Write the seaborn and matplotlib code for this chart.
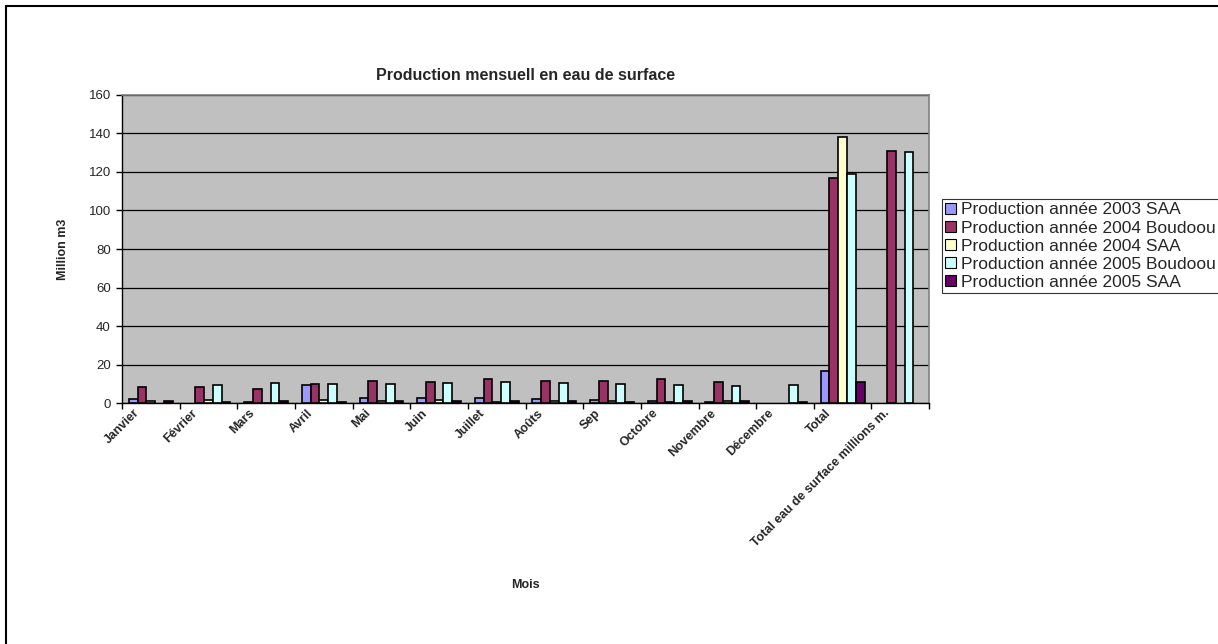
import matplotlib
matplotlib.use("Agg")
import matplotlib.pyplot as plt
from matplotlib.lines import Line2D
from matplotlib.patches import Patch
import numpy as np
import pandas as pd
import seaborn as sns

# Monthly surface-water production (million m3)
months = ["Janvier", "Février", "Mars", "Avril", "Mai", "Juin", "Juillet",
          "Aoûts", "Sep", "Octobre", "Novembre", "Décembre", "Total",
          "Total eau de surface millions m."]

series = ["Production année 2003 SAA",
          "Production année 2004 Boudoou",
          "Production année 2004 SAA",
          "Production année 2005 Boudoou",
          "Production année 2005 SAA"]

nan = np.nan
prod_2003_saa = [1.9, nan, 0.3, 9.2, 2.8, 2.6, 2.6, 2.1, 1.4, 0.9, 0.5, nan, 16.8, nan]
prod_2004_boudoou = [8.5, 8.2, 7.5, 10.0, 11.6, 10.9, 12.5, 11.5, 11.5, 12.5, 11.1, nan, 116.8, 130.7]
prod_2004_saa = [1.0, 1.4, 0.2, 1.7, 1.2, 1.4, 0.7, 1.2, 0.9, 0.7, 0.9, nan, 138.2, nan]
prod_2005_boudoou = [nan, 9.2, 10.4, 9.9, 9.7, 10.6, 11.1, 10.6, 9.9, 9.5, 8.9, 9.2, 119.1, 130.2]
prod_2005_saa = [0.9, 0.7, 0.9, 0.7, 0.9, 0.9, 0.9, 0.9, 0.7, 1.0, 1.0, 0.7, 10.8, nan]

colors = ["#9999FF", "#993366", "#FFFFCC", "#CCFFFF", "#660066"]

values = [prod_2003_saa, prod_2004_boudoou, prod_2004_saa,
          prod_2005_boudoou, prod_2005_saa]
df = pd.DataFrame({
    "Mois": np.tile(months, len(series)),
    "Serie": np.repeat(series, len(months)),
    "Valeur": np.concatenate(values),
})

sns.set_theme(style="white")
plt.rcParams["font.family"] = ["Liberation Sans", "DejaVu Sans"]

fig = plt.figure(figsize=(12.18, 6.44), dpi=100)
ax = fig.add_axes([0.1002, 0.3742, 0.6626, 0.4783])
ax.set_facecolor("#C0C0C0")

sns.barplot(data=df, x="Mois", y="Valeur", hue="Serie", order=months,
            hue_order=series, palette=colors, errorbar=None, width=0.76,
            edgecolor="black", linewidth=1.2, saturation=1, ax=ax,
            legend=False, zorder=3)

ax.set_ylim(0, 160)
ax.set_xlim(-0.5, len(months) - 0.5)
ax.set_yticks(np.arange(0, 161, 20))
ax.yaxis.grid(True, color="black", linewidth=0.9, zorder=0)
ax.set_axisbelow(True)

# tick marks on the category boundaries; rotated labels end just left of centre
n = len(months)
ax.set_xticks(np.arange(n) - 0.3)
ax.set_xticklabels(months, rotation=45, ha="right", rotation_mode="anchor",
                   fontsize=9, fontweight="bold")
ax.set_xticks(np.arange(-0.5, n), minor=True)
ax.tick_params(axis="x", which="major", length=0, pad=3)
ax.tick_params(axis="x", which="minor", length=4, width=1, color="black",
               direction="out", bottom=True)
ax.tick_params(axis="y", length=4, width=1, color="black", direction="out",
               left=True, labelsize=9.5, pad=4)

for side in ["left", "bottom"]:
    ax.spines[side].set_color("black")
    ax.spines[side].set_linewidth(1.0)
for side in ["top", "right"]:
    ax.spines[side].set_color("#808080")
    ax.spines[side].set_linewidth(1.2)

ax.set_xlabel("Mois", fontsize=9, fontweight="bold", labelpad=21)
ax.set_ylabel("Million m3", fontsize=9, fontweight="bold", labelpad=14)
ax.set_title("Production mensuell en eau de surface", fontsize=11.5,
             fontweight="bold", pad=11)

handles = [Patch(facecolor=c, edgecolor="black", linewidth=0.8) for c in colors]
leg = fig.legend(handles, series, loc="upper left",
                 bbox_to_anchor=(942 / 1218, 1 - 199 / 644),
                 fontsize=12.5, frameon=True, fancybox=False, borderaxespad=0,
                 handlelength=0.6, handleheight=0.6, handletextpad=0.3,
                 labelspacing=0.18, borderpad=0.2)
leg.get_frame().set_edgecolor("black")
leg.get_frame().set_linewidth(0.8)

# outer chart frame
x0 = 6 / 1218
y0 = 1 - 6 / 644
fig.add_artist(Line2D([x0, x0], [0, y0], color="black", linewidth=1.5,
                      transform=fig.transFigure))
fig.add_artist(Line2D([x0, 1], [y0, y0], color="black", linewidth=1.5,
                      transform=fig.transFigure))

fig.savefig("out.png", dpi=100, facecolor="white")
